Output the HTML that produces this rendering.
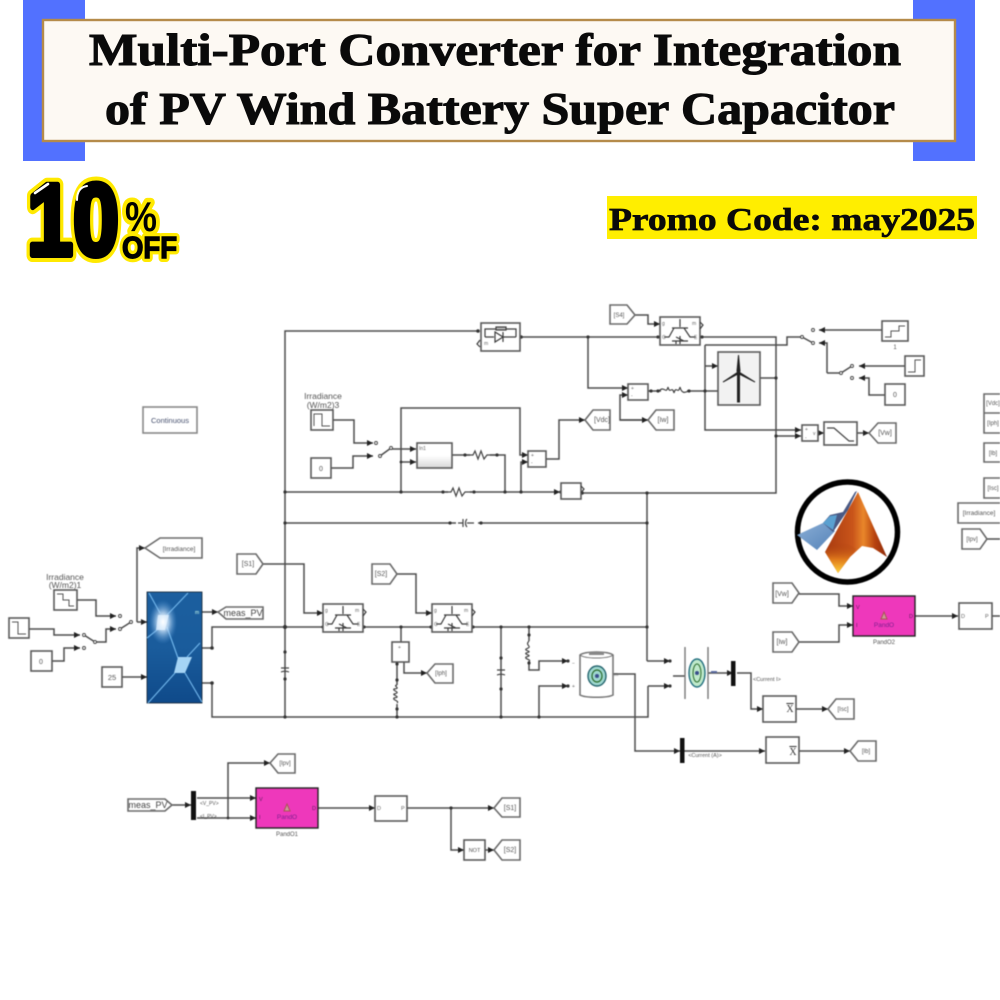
<!DOCTYPE html>
<html><head><meta charset="utf-8"><title>Multi-Port Converter</title>
<style>
html,body{margin:0;padding:0;background:#fff;width:1000px;height:1000px;overflow:hidden}
svg{display:block}
.w{fill:none;stroke:#4d4d4d;stroke-width:1.5}
.a{marker-end:url(#ar)}
.b{fill:#fff;stroke:#5a5a5a;stroke-width:1.6}
.g{fill:#fff;stroke:#6a6a6a;stroke-width:1.6}
.t{font-family:"Liberation Sans",sans-serif;fill:#555;font-size:7px;text-anchor:middle}
.l{font-family:"Liberation Sans",sans-serif;fill:#555;font-size:8.5px;text-anchor:middle}
.p{font-family:"Liberation Sans",sans-serif;fill:#666;font-size:5px}
.d{fill:#333}
.s{fill:none;stroke:#3c3c3c;stroke-width:1.2}
.ttl{font-family:"Liberation Serif",serif;font-weight:bold;fill:#0a0a0a;stroke:#0a0a0a;stroke-width:1.1px}
.off{font-family:"Liberation Sans",sans-serif;font-weight:bold}
</style></head><body>
<svg width="1000" height="1000" viewBox="0 0 1000 1000" xmlns="http://www.w3.org/2000/svg">
<defs>
<marker id="ar" markerWidth="7" markerHeight="7" refX="6" refY="3" orient="auto" markerUnits="userSpaceOnUse"><path d="M0,0L6,3L0,6z" fill="#222"/></marker>
<linearGradient id="pv" x1="0" y1="0" x2="0" y2="1"><stop offset="0" stop-color="#1c5f9f"/><stop offset=".5" stop-color="#1a5c9c"/><stop offset="1" stop-color="#0f4a8a"/></linearGradient>
<radialGradient id="gl"><stop offset="0" stop-color="#fff"/><stop offset=".4" stop-color="#cfe6fb" stop-opacity=".8"/><stop offset="1" stop-color="#5a9ddc" stop-opacity="0"/></radialGradient>
<linearGradient id="or" x1="0" y1="0" x2="1" y2="0"><stop offset="0" stop-color="#a83a10"/><stop offset=".45" stop-color="#c9551a"/><stop offset=".62" stop-color="#e9862a"/><stop offset=".8" stop-color="#b8430f"/><stop offset="1" stop-color="#8c2a0a"/></linearGradient>
<linearGradient id="or2" x1="0" y1="0" x2="0" y2="1"><stop offset="0" stop-color="#a8380d" stop-opacity="0"/><stop offset=".55" stop-color="#e07a1c"/><stop offset="1" stop-color="#ffd23a"/></linearGradient>
<linearGradient id="bl" x1="0" y1="0" x2="1" y2="1"><stop offset="0" stop-color="#8aaed6"/><stop offset="1" stop-color="#5583b8"/></linearGradient>
<linearGradient id="gr" x1="0" y1="0" x2="0" y2="1"><stop offset="0" stop-color="#fff"/><stop offset=".5" stop-color="#fff"/><stop offset="1" stop-color="#d8d8d8"/></linearGradient>
</defs>

<!-- Header -->
<rect x="23" y="0" width="62" height="161" fill="#5271ff"/>
<rect x="913" y="0" width="62" height="161" fill="#5271ff"/>
<rect x="43" y="20" width="912" height="121" fill="#fdf9f3" stroke="#b58b4a" stroke-width="2.4"/>
<text class="ttl" x="89" y="65" font-size="46" textLength="812" lengthAdjust="spacingAndGlyphs">Multi-Port Converter for Integration</text>
<text class="ttl" x="105" y="124" font-size="46" textLength="790" lengthAdjust="spacingAndGlyphs">of PV Wind Battery Super Capacitor</text>

<rect x="607" y="196" width="370" height="43" fill="#ffee00"/>
<text class="ttl" x="609" y="230" font-size="32" textLength="366" lengthAdjust="spacingAndGlyphs" style="stroke-width:.7px">Promo Code: may2025</text>

<!-- 10% OFF -->
<g class="off">
<text x="27" y="255" font-size="102" textLength="92" lengthAdjust="spacingAndGlyphs" fill="#ffe900" stroke="#ffe900" stroke-width="14" stroke-linejoin="round">10</text>
<text x="125" y="231" font-size="42" textLength="32" lengthAdjust="spacingAndGlyphs" fill="#ffe900" stroke="#ffe900" stroke-width="9" stroke-linejoin="round">%</text>
<text x="122" y="258" font-size="31" textLength="55" lengthAdjust="spacingAndGlyphs" fill="#ffe900" stroke="#ffe900" stroke-width="8" stroke-linejoin="round">OFF</text>
<text x="27" y="255" font-size="102" textLength="92" lengthAdjust="spacingAndGlyphs" fill="#000" stroke="#000" stroke-width="6" stroke-linejoin="round">10</text>
<text x="125" y="231" font-size="42" textLength="32" lengthAdjust="spacingAndGlyphs" fill="#000">%</text>
<text x="122" y="258" font-size="31" textLength="55" lengthAdjust="spacingAndGlyphs" fill="#000" stroke="#000" stroke-width="1.4">OFF</text>
<path d="M35,193L48,184" stroke="#fff" stroke-width="2.6" stroke-linecap="round" fill="none"/>
<path d="M77,200C77,192 80,187 87,186" stroke="#fff" stroke-width="2" stroke-linecap="round" fill="none"/>
</g>

<g style="filter:blur(.45px)">
<!-- Wires: top section -->
<polyline class="w" points="285,717 285,331 478,331"/>
<polyline class="w" points="520,337 660,337"/>
<polyline class="w a" points="635,315 648,315 648,324 660,324"/>
<polyline class="w a" points="588,337 588,388 628,388"/>
<polyline class="w a" points="648,420 620,420 620,395 628,395"/>
<polyline class="w a" points="620,420 648,420"/>
<polyline class="w" points="700,337 776,337 776,493 581,493"/>
<polyline class="w" points="648,391 718,391"/>
<polyline class="w" points="705,391 705,345"/>
<polyline class="w a" points="705,366 718,366"/>
<polyline class="w" points="705,345 787,345 787,337 802,337 813,343"/>
<polyline class="w a" points="882,330 819,330"/>
<polyline class="w a" points="827,373 827,343 819,343"/>
<polyline class="w" points="827,373 841,373 852,366"/>
<polyline class="w a" points="905,366 859,366"/>
<polyline class="w a" points="885,395 869,395 869,378 859,378"/>
<polyline class="w" points="760,378 776,378"/>
<polyline class="w a" points="705,391 705,430 801,430"/>
<polyline class="w a" points="776,436 801,436"/>
<polyline class="w a" points="818,433 824,433"/>
<polyline class="w a" points="857,433 869,433"/>
<polyline class="w a" points="333,420 354,420 354,443 373,443"/>
<polyline class="w a" points="331,468 353,468 353,456 373,456"/>
<polyline class="w" points="380,456 391,448"/>
<polyline class="w a" points="391,449 416,449"/>
<polyline class="w a" points="401,462 416,462"/>
<polyline class="w a" points="401,492 401,408 520,408 520,455 528,455"/>
<polyline class="w a" points="521,492 521,462 528,462"/>
<polyline class="w a" points="546,459 559,459 559,420 585,420"/>
<polyline class="w" points="452,455 505,455 505,492"/>
<polyline class="w a" points="285,492 560,492"/>
<polyline class="w" points="285,523 646,523"/>
<polyline class="w" points="647,493 647,661"/>
<polyline class="w a" points="647,661 670,661"/>

<!-- Middle -->
<polyline class="w a" points="137,622 147,622"/>
<polyline class="w a" points="137,622 137,548 145,548"/>
<polyline class="w" points="131,622 120,629"/>
<polyline class="w a" points="77,600 96,600 96,616 116,616"/>
<polyline class="w a" points="95,642 106,642 106,629 116,629"/>
<polyline class="w" points="95,642 84,635"/>
<polyline class="w a" points="29,629 54,629 54,635 80,635"/>
<polyline class="w a" points="52,661 64,661 64,648 80,648"/>
<polyline class="w a" points="122,677 147,677"/>
<polyline class="w a" points="202,612 218,612"/>
<polyline class="w" points="202,648 212,648 212,627 323,627"/>
<polyline class="w" points="202,683 212,683 212,717 648,717 648,686"/>
<polyline class="w a" points="648,686 670,686"/>
<polyline class="w" points="363,627 432,627"/>
<polyline class="w" points="472,627 647,627"/>
<polyline class="w a" points="263,564 304,564 304,613 323,613"/>
<polyline class="w a" points="397,574 416,574 416,613 432,613"/>
<polyline class="w" points="401,627 401,642"/>
<polyline class="w" points="397,662 397,717"/>
<polyline class="w a" points="404,662 404,673 427,673"/>
<polyline class="w" points="501,627 501,717"/>
<polyline class="w a" points="529,627 529,670 539,670 539,661 568,661"/>
<polyline class="w a" points="539,717 539,686 568,686"/>
<polyline class="w a" points="613,674 635,674 635,751 680,751"/>
<polyline class="w a" points="684,751 765,751"/>
<polyline class="w a" points="799,751 850,751"/>
<polyline class="w" points="673,676 685,676"/>
<polyline class="w a" points="708,673 733,673"/>
<polyline class="w a" points="737,673 751,673 751,709 763,709"/>
<polyline class="w a" points="796,709 828,709"/>
<polyline class="w a" points="799,594 839,594 839,606 853,606"/>
<polyline class="w a" points="799,642 839,642 839,625 853,625"/>
<polyline class="w a" points="915,616 958,616"/>
<polyline class="w" points="992,616 1000,616"/>
<polyline class="w" points="987,539 1000,539"/>

<!-- Lower -->
<polyline class="w a" points="172,805 191,805"/>
<polyline class="w a" points="197,798 256,798"/>
<polyline class="w a" points="197,818 256,818"/>
<polyline class="w a" points="228,818 228,763 270,763"/>
<polyline class="w a" points="318,808 375,808"/>
<polyline class="w a" points="407,808 494,808"/>
<polyline class="w a" points="451,808 451,850 464,850"/>
<polyline class="w a" points="485,850 494,850"/>

<!-- Junction dots -->
<g class="d">
<circle cx="285" cy="492" r="1.6"/><circle cx="285" cy="523" r="1.6"/><circle cx="285" cy="627" r="2"/><circle cx="285" cy="717" r="1.6"/>
<circle cx="401" cy="492" r="1.6"/><circle cx="505" cy="492" r="1.6"/><circle cx="521" cy="492" r="1.6"/>
<circle cx="588" cy="337" r="1.6"/><circle cx="705" cy="391" r="1.6"/><circle cx="776" cy="378" r="1.6"/><circle cx="776" cy="436" r="1.6"/>
<circle cx="647" cy="493" r="1.6"/><circle cx="647" cy="523" r="1.6"/><circle cx="647" cy="627" r="1.6"/>
<circle cx="401" cy="627" r="1.6"/><circle cx="501" cy="627" r="1.6"/><circle cx="529" cy="627" r="1.6"/>
<circle cx="397" cy="717" r="1.6"/><circle cx="501" cy="717" r="1.6"/><circle cx="539" cy="717" r="1.6"/>
<circle cx="401" cy="462" r="1.4"/><circle cx="228" cy="818" r="1.4"/><circle cx="451" cy="808" r="1.6"/>
<circle cx="212" cy="648" r="1.8"/><circle cx="212" cy="683" r="1.8"/>
<circle cx="478" cy="331" r="1.8"/><circle cx="521" cy="337" r="1.8"/><circle cx="561" cy="492" r="1.8"/><circle cx="582" cy="493" r="1.8"/>
<circle cx="702" cy="337" r="1.6"/><circle cx="658" cy="337" r="1.6"/><circle cx="323" cy="627" r="1.6"/><circle cx="364" cy="627" r="1.6"/><circle cx="431" cy="627" r="1.6"/><circle cx="473" cy="627" r="1.6"/>
<circle cx="670" cy="661" r="1.6"/><circle cx="670" cy="686" r="1.6"/><circle cx="568" cy="661" r="1.6"/><circle cx="568" cy="686" r="1.6"/>
</g>

<!-- Switch contacts -->
<g fill="#fff" stroke="#444" stroke-width=".9">
<circle cx="376" cy="443" r="1.5"/><circle cx="380" cy="456" r="1.5"/><circle cx="391" cy="448" r="1.5"/>
<circle cx="120" cy="616" r="1.5"/><circle cx="120" cy="629" r="1.5"/><circle cx="131" cy="622" r="1.5"/>
<circle cx="84" cy="635" r="1.5"/><circle cx="84" cy="648" r="1.5"/><circle cx="95" cy="642" r="1.5"/>
<circle cx="813" cy="330" r="1.5"/><circle cx="813" cy="343" r="1.5"/><circle cx="802" cy="337" r="1.5"/>
<circle cx="852" cy="366" r="1.5"/><circle cx="852" cy="378" r="1.5"/><circle cx="841" cy="373" r="1.5"/>
</g>

<!-- Continuous -->
<rect class="b" x="143" y="407" width="54" height="26" style="stroke:#888"/>
<text x="170" y="423" font-family="Liberation Sans, sans-serif" font-size="7.5" fill="#46506e" text-anchor="middle">Continuous</text>

<!-- Diode block -->
<rect class="b" x="481" y="323" width="39" height="28"/>
<g class="s"><path d="M485,337V329H516V337M485,337H494M503,337H516"/><path d="M495,332V342L503,337ZM503,332V342"/><rect x="496" y="327" width="10" height="3" fill="#bbb"/></g>
<text class="p" x="484" y="345">m</text>
<path class="s" d="M480,340L477,344L480,347"/>

<!-- S4 -->
<polygon class="g" points="610,305 627,305 635,315 627,324 610,324"/><text class="t" x="619" y="317" style="font-size:6px">[S4]</text>

<!-- IGBT blocks -->
<g>
<rect class="b" x="660" y="317" width="40" height="28"/>
<path class="s" d="M680,319V327M672,328H688M674,328L669,337H664M684,328L690,337H696M672,341H688M680,336V344M676,337L684,341M676,341V344"/>
<path class="s" d="M700,322L703,325L700,329"/>
<text class="p" x="662" y="325">g</text><text class="p" x="662" y="339">C</text><text class="p" x="694" y="339">E</text><text class="p" x="692" y="325">m</text>
</g>
<g transform="translate(-337,287)">
<rect class="b" x="660" y="317" width="40" height="28"/>
<path class="s" d="M680,319V327M672,328H688M674,328L669,337H664M684,328L690,337H696M672,341H688M680,336V344M676,337L684,341M676,341V344"/>
<path class="s" d="M700,322L703,325L700,329"/>
<text class="p" x="662" y="325">g</text><text class="p" x="662" y="339">C</text><text class="p" x="694" y="339">E</text><text class="p" x="692" y="325">m</text>
</g>
<g transform="translate(-228,287)">
<rect class="b" x="660" y="317" width="40" height="28"/>
<path class="s" d="M680,319V327M672,328H688M674,328L669,337H664M684,328L690,337H696M672,341H688M680,336V344M676,337L684,341M676,341V344"/>
<path class="s" d="M700,322L703,325L700,329"/>
<text class="p" x="662" y="325">g</text><text class="p" x="662" y="339">C</text><text class="p" x="694" y="339">E</text><text class="p" x="692" y="325">m</text>
</g>

<!-- Wind turbine -->
<rect class="b" x="718" y="352" width="42" height="53" style="fill:#f2f2f2"/>
<g fill="#222" stroke="#222"><path d="M738.5,355L740,371H737Z"/><path d="M739,372L755,382L739,374Z"/><path d="M738,372L723,382L738,374Z"/><rect x="737.5" y="374" width="2" height="28"/><circle cx="738.5" cy="373" r="1.5"/></g>

<!-- Step / signal blocks -->
<rect class="b" x="882" y="321" width="26" height="20"/><path d="M885,337H891V331H899V326H905" fill="none" stroke="#555"/>
<text class="t" x="895" y="349" style="font-size:6px">1</text>
<rect class="b" x="905" y="356" width="19" height="20"/><path d="M908,372H915V360H921" fill="none" stroke="#555"/>
<rect class="b" x="885" y="384" width="20" height="21"/><text class="t" x="895" y="397">0</text>
<rect class="b" x="802" y="425" width="16" height="16"/>
<text class="p" x="805" y="431">+</text><text class="p" x="805" y="439">-</text><text class="p" x="813" y="435">v</text>
<rect class="b" x="824" y="422" width="33" height="23"/><path d="M827,428H834L849,441H854" fill="none" stroke="#444" stroke-width="1.2"/>
<polygon class="g" points="869,433 878,423 896,423 896,443 878,443"/><text class="t" x="885" y="435">[Vw]</text>
<polygon class="g" points="648,420 656,410 674,410 674,430 656,430"/><text class="t" x="663" y="422">[Iw]</text>
<rect class="b" x="628" y="384" width="20" height="16"/><text class="p" x="631" y="390">+</text><text class="p" x="631" y="397">-</text>
<rect x="661" y="386" width="26" height="10" fill="#fff"/><path d="M659,391C664,385 666,395 668,387C670,395 672,385 674,393C676,385 678,395 680,387C682,395 686,392 689,391" fill="none" stroke="#444" stroke-width="1.2"/>
<circle cx="651" cy="391" r="1.6" class="d"/><circle cx="658" cy="391" r="1.6" class="d"/><circle cx="689" cy="391" r="1.6" class="d"/>

<!-- Irradiance3 section -->
<text class="l" x="323" y="399">Irradiance</text>
<text class="l" x="323" y="408">(W/m2)3</text>
<rect class="b" x="311" y="410" width="22" height="20"/><path d="M314,426V414H322V426H330" fill="none" stroke="#555"/>
<rect class="b" x="311" y="458" width="20" height="20"/><text class="t" x="321" y="471">0</text>
<rect class="b" x="417" y="443" width="35" height="25" style="fill:url(#gr)"/><text class="p" x="419" y="450">In1</text>
<rect class="b" x="528" y="451" width="18" height="16"/><text class="p" x="531" y="457">+</text><text class="p" x="531" y="464">-</text>
<polygon class="g" points="585,420 593,410 610,410 610,430 593,430"/><text class="t" x="602" y="422">[Vdc]</text>
<rect x="470" y="451" width="20" height="8" fill="#fff"/><path d="M466,455H473L475,451L478,459L481,451L484,459L487,455H496" fill="none" stroke="#444" stroke-width="1.2"/>
<circle cx="465" cy="455" r="1.6" class="d"/><circle cx="497" cy="455" r="1.6" class="d"/>
<rect x="448" y="488" width="22" height="8" fill="#fff"/><path d="M445,492H451L453,488L456,496L459,488L462,496L465,492H472" fill="none" stroke="#444" stroke-width="1.2"/>
<circle cx="443" cy="492" r="1.6" class="d"/><circle cx="474" cy="492" r="1.6" class="d"/>
<rect class="b" x="561" y="483" width="20" height="16"/>
<path class="s" d="M581,486L584,489L581,493"/>
<rect x="456" y="519" width="22" height="8" fill="#fff"/><path d="M458,523H463M463,519V527M467,519C465,521 465,525 467,527M467,523H474" fill="none" stroke="#444" stroke-width="1.2"/>
<circle cx="450" cy="523" r="1.6" class="d"/><circle cx="481" cy="523" r="1.6" class="d"/>

<!-- Solar side -->
<text class="l" x="65" y="580">Irradiance</text>
<text class="l" x="65" y="588">(W/m2)1</text>
<rect class="b" x="54" y="590" width="23" height="20"/><path d="M57,594H63V600H69V606H74" fill="none" stroke="#555"/>
<rect class="b" x="9" y="618" width="20" height="20"/><path d="M12,622H18V634H26" fill="none" stroke="#555"/>
<rect class="b" x="31" y="651" width="21" height="20"/><text class="t" x="41" y="664">0</text>
<rect class="b" x="102" y="667" width="20" height="20"/><text class="t" x="112" y="680" style="font-size:7.5px">25</text>
<polygon class="g" points="145,548 160,538 202,538 202,558 160,558"/><text class="t" x="179" y="551" style="font-size:6.5px">[Irradiance]</text>

<rect x="147" y="592" width="55" height="111" fill="url(#pv)" stroke="#123" stroke-width=".8"/>
<g fill="none" stroke="#6fb4ea" stroke-width="1.2">
<path d="M149,593L160,613M188,593L167,615M147,638L157,630M167,627L178,658M200,643L187,657M148,703L175,673M185,673L202,702"/>
</g>
<polygon points="158,615 169,615 165,630 156,630" fill="#f0f8ff"/>
<polygon points="178,657 192,657 185,673 174,673" fill="#a5d4f5"/>
<ellipse cx="163" cy="622" rx="14" ry="22" fill="url(#gl)"/>
<polygon class="g" points="218,612 226,607 263,607 263,619 226,619"/><text x="243" y="616" font-family="Liberation Sans, sans-serif" font-size="9" fill="#444" text-anchor="middle">meas_PV</text>
<text class="p" x="195" y="614" style="fill:#cfe">m</text>

<polygon class="g" points="237,554 256,554 263,564 256,574 237,574"/><text class="t" x="248" y="566">[S1]</text>
<polygon class="g" points="372,564 390,564 397,574 390,584 372,584"/><text class="t" x="381" y="576">[S2]</text>

<!-- Caps & inductors -->
<rect x="275" y="660" width="8" height="18" fill="#fff" opacity="0"/>
<path d="M281,668H289M281,672C283,671 287,671 289,672" fill="none" stroke="#444" stroke-width="1.2"/>
<circle cx="285" cy="652" r="1.6" class="d"/><circle cx="285" cy="679" r="1.6" class="d"/>
<path d="M497,670H505M497,675C499,674 503,674 505,675" fill="none" stroke="#444" stroke-width="1.2"/>
<circle cx="501" cy="658" r="1.6" class="d"/><circle cx="501" cy="689" r="1.6" class="d"/>
<rect x="392" y="642" width="17" height="20" class="b"/><text class="p" x="398" y="649">+</text>
<rect x="393" y="685" width="8" height="19" fill="#fff"/>
<path d="M397,685C392,686 402,688 394,689C392,691 402,692 394,694C392,695 402,697 394,698C392,700 400,701 397,703" fill="none" stroke="#444" stroke-width="1.2"/>
<circle cx="397" cy="709" r="1.6" class="d"/><circle cx="397" cy="680" r="1.6" class="d"/><circle cx="397" cy="664" r="1.6" class="d"/>
<polygon class="g" points="427,673 435,664 453,664 453,683 435,683"/><text class="t" x="441" y="675" style="font-size:6px">[Iph]</text>
<rect x="524" y="641" width="10" height="20" fill="#fff"/>
<path d="M529,641C524,646 534,646 526,649C524,651 534,651 526,653C524,655 534,655 526,657C524,659 532,660 529,661" fill="none" stroke="#444" stroke-width="1.2"/>
<circle cx="529" cy="635" r="1.6" class="d"/><circle cx="529" cy="663" r="1.6" class="d"/>

<!-- Battery -->
<path class="b" d="M580,655C585,651 608,651 613,655V695C608,698 585,698 580,695Z" style="stroke:#777"/>
<path d="M580,655C585,659 608,659 613,655" fill="none" stroke="#777"/>
<rect x="589" y="652" width="15" height="3" fill="#888"/>
<ellipse cx="597" cy="676" rx="9" ry="10" fill="#9ed7cf" stroke="#26656f" stroke-width="1.4"/>
<ellipse cx="597" cy="676" rx="5" ry="6" fill="none" stroke="#2d6d2d" stroke-width="1.2"/>
<circle cx="597" cy="676" r="2" fill="#3a4f8c"/>
<text class="p" x="614" y="676" style="font-size:5px">m</text>
<text class="p" x="572" y="665">−</text><text class="p" x="572" y="688">+</text>

<!-- Supercap -->
<path d="M685,647V699M708,647V699" stroke="#777" stroke-width="1.4" fill="none"/>
<ellipse cx="697" cy="673" rx="8" ry="14" fill="#bfe9cb" stroke="#247080" stroke-width="1.4"/>
<ellipse cx="697" cy="673" rx="4" ry="9" fill="none" stroke="#2d6d2d"/>
<circle cx="697" cy="673" r="2" fill="#3a4f8c"/>
<rect x="711" y="671" width="6" height="2" fill="#5a6aa0"/>
<rect x="731" y="661" width="4.5" height="25" fill="#111"/>
<text x="753" y="681" font-family="Liberation Sans, sans-serif" font-size="5.5" fill="#555">&lt;Current I&gt;</text>
<rect class="b" x="763" y="696" width="33" height="26"/><text x="790" y="712" font-family="Liberation Serif, serif" font-size="10" fill="#333" text-anchor="middle" text-decoration="overline">X</text>
<polygon class="g" points="828,709 836,699 854,699 854,719 836,719"/><text class="t" x="843" y="711" style="font-size:6px">[Isc]</text>
<rect x="680" y="738" width="4.5" height="25" fill="#111"/>
<text x="705" y="757" font-family="Liberation Sans, sans-serif" font-size="5.5" fill="#555" text-anchor="middle">&lt;Current (A)&gt;</text>
<rect class="b" x="766" y="737" width="33" height="26"/><text x="793" y="755" font-family="Liberation Serif, serif" font-size="10" fill="#333" text-anchor="middle" text-decoration="overline">X</text>
<polygon class="g" points="850,751 858,741 876,741 876,761 858,761"/><text class="t" x="866" y="753" style="font-size:6px">[Ib]</text>

<!-- PandO2 -->
<polygon class="g" points="773,583 792,583 799,593 792,603 773,603"/><text class="t" x="782" y="596">[Vw]</text>
<polygon class="g" points="773,632 792,632 799,642 792,652 773,652"/><text class="t" x="782" y="644">[Iw]</text>
<rect x="853" y="596" width="62" height="40" fill="#ee38bb" stroke="#222" stroke-width="1.4"/>
<text x="856" y="609" font-family="Liberation Sans, sans-serif" font-size="5.5" fill="#602060">V</text><text x="856" y="627" font-family="Liberation Sans, sans-serif" font-size="5.5" fill="#602060">I</text><text x="909" y="618" font-family="Liberation Sans, sans-serif" font-size="5.5" fill="#602060">D</text>
<path d="M881,619L884,612L887,619Z" fill="#c99" stroke="#a55"/>
<text x="884" y="627" font-family="Liberation Sans, sans-serif" font-size="6.5" fill="#802090" text-anchor="middle">PandO</text>
<text class="l" x="884" y="644" style="font-size:6px">PandO2</text>
<rect class="b" x="959" y="603" width="33" height="26"/><text class="p" x="961" y="618" style="font-size:5.5px">D</text><text class="p" x="985" y="618" style="font-size:5.5px">P</text>

<!-- MATLAB logo -->
<circle cx="847.5" cy="532" r="50" fill="#fff" stroke="#000" stroke-width="5.5"/>
<polygon points="797,535 823,523 835,531 817,550" fill="url(#bl)"/>
<path d="M823,523L830,515L843,512L855,492L857,491L848,510L833,532Z" fill="#4a5a85"/>
<path d="M823,523L830,516L837,515L833,530Z" fill="#5aa0d0"/>
<path d="M858,492L887,557L873,548L862,546L850,557L838,573L825,552L837,530L848,510Z" fill="url(#or)"/>
<path d="M825,552L838,573L850,557L856,549C845,540 835,540 825,552Z" fill="url(#or2)"/>

<!-- Right side From blocks -->
<path class="g" d="M1000,394H984V413H1000M984,413V433H1000M1000,443H984V462H1000M1000,478H984V498H1000M1000,503H958V523H1000"/>
<text class="t" x="993" y="405" style="font-size:6px">[Vdc]</text><text class="t" x="993" y="425" style="font-size:6px">[Iph]</text><text class="t" x="993" y="455" style="font-size:6px">[Ib]</text><text class="t" x="993" y="490" style="font-size:6px">[Isc]</text>
<text class="t" x="979" y="515" style="font-size:6.5px">[Irradiance]</text>
<polygon class="g" points="962,529 980,529 987,539 980,549 962,549"/><text class="t" x="972" y="541" style="font-size:6px">[Ipv]</text>

<!-- Lower row -->
<polygon class="g" points="128,799 165,799 172,805 165,811 128,811"/><text x="148" y="808" font-family="Liberation Sans, sans-serif" font-size="9" fill="#444" text-anchor="middle">meas_PV</text>
<rect x="191" y="791" width="5" height="29" fill="#111"/>
<text x="200" y="805" font-family="Liberation Sans, sans-serif" font-size="5" fill="#555">&lt;V_PV&gt;</text>
<text x="200" y="818" font-family="Liberation Sans, sans-serif" font-size="5" fill="#555">&lt;I_PV&gt;</text>
<polygon class="g" points="270,763 278,754 295,754 295,773 278,773"/><text class="t" x="285" y="765" style="font-size:6px">[Ipv]</text>
<rect x="256" y="788" width="62" height="40" fill="#ee38bb" stroke="#222" stroke-width="1.4"/>
<text x="259" y="801" font-family="Liberation Sans, sans-serif" font-size="5.5" fill="#602060">V</text><text x="259" y="819" font-family="Liberation Sans, sans-serif" font-size="5.5" fill="#602060">I</text><text x="312" y="810" font-family="Liberation Sans, sans-serif" font-size="5.5" fill="#602060">D</text>
<path d="M284,811L287,804L290,811Z" fill="#c99" stroke="#a55"/>
<text x="287" y="819" font-family="Liberation Sans, sans-serif" font-size="6.5" fill="#802090" text-anchor="middle">PandO</text>
<text class="l" x="287" y="836" style="font-size:6px">PandO1</text>
<rect class="b" x="375" y="796" width="32" height="25"/><text class="p" x="377" y="810" style="font-size:5.5px">D</text><text class="p" x="401" y="810" style="font-size:5.5px">P</text>
<polygon class="g" points="494,808 502,798 520,798 520,817 502,817"/><text class="t" x="510" y="810">[S1]</text>
<rect class="b" x="464" y="840" width="21" height="20"/><text class="t" x="474.5" y="852" style="font-size:5.5px">NOT</text>
<polygon class="g" points="494,850 502,840 520,840 520,860 502,860"/><text class="t" x="510" y="852">[S2]</text>
</g>
</svg>
</body></html>
